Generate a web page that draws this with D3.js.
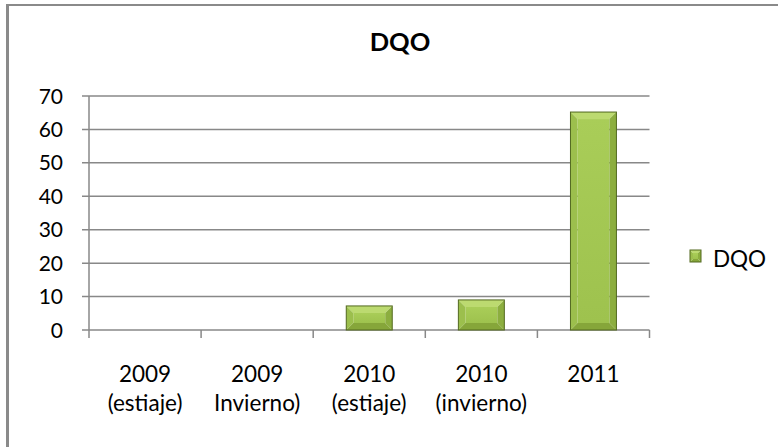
<!DOCTYPE html>
<html>
<head>
<meta charset="utf-8">
<script src="https://cdnjs.cloudflare.com/ajax/libs/d3/7.8.5/d3.min.js"></script>
<style>
  body { margin: 0; background: #fff; }
  svg { display: block; font-family: Lato, 'Open Sans', sans-serif; }
</style>
</head>
<body>
<script>
// chart data
const categories = ["2009\n(estiaje)", "2009\nInvierno)", "2010\n(estiaje)", "2010\n(invierno)", "2011"];
const values = [0, 0, 7.2, 9, 65.2];
const yTicks = [0, 10, 20, 30, 40, 50, 60, 70];
const seriesName = "DQO";

const W = 778, H = 447;
const svg = d3.select("body").append("svg").attr("width", W).attr("height", H);

// outer chart border (only top and left are inside the picture)
svg.append("line").attr("x1", 7.5).attr("x2", 7.5).attr("y1", 4).attr("y2", H)
  .attr("stroke", "#8a8a8a").attr("stroke-width", 3);
svg.append("line").attr("x1", 6).attr("x2", W).attr("y1", 5).attr("y2", 5)
  .attr("stroke", "#8a8a8a").attr("stroke-width", 2);

const x = d3.scaleBand().domain(categories).range([89, 649.5]).padding(0);
const y = d3.scaleLinear().domain([0, 70]).range([330, 96]);

// gridlines
svg.append("g").selectAll("line").data(yTicks).join("line")
  .attr("x1", 82).attr("x2", 649.5)
  .attr("y1", d => y(d)).attr("y2", d => y(d))
  .attr("stroke", "#888").attr("stroke-width", 1.5);

// y axis line
svg.append("line").attr("x1", 89).attr("x2", 89).attr("y1", y(70)).attr("y2", 338)
  .attr("stroke", "#888").attr("stroke-width", 1.5);

// category ticks at band edges
const edges = categories.map(c => x(c)).concat([x.range()[1]]);
svg.append("g").selectAll("line").data(edges.slice(1)).join("line")
  .attr("x1", d => d).attr("x2", d => d).attr("y1", 330).attr("y2", 338)
  .attr("stroke", "#888").attr("stroke-width", 1.5);

// y labels
svg.append("g").selectAll("text").data(yTicks).join("text")
  .attr("x", 63).attr("y", d => y(d) + 7.5)
  .attr("text-anchor", "end").attr("font-size", 21).attr("fill", "#000")
  .text(d => d);

// category labels
const cl = svg.append("g").selectAll("text").data(categories).join("text")
  .attr("x", d => x(d) + x.bandwidth() / 2)
  .attr("text-anchor", "middle").attr("font-size", 22.5).attr("fill", "#000");
cl.selectAll("tspan").data(d => d.split("\n")).join("tspan")
  .attr("x", function() { return d3.select(this.parentNode).attr("x"); })
  .attr("y", (d, i) => 381.5 + i * 29)
  .text(d => d);

// bevelled bar
function bevelBar(g, x0, x1, y0, y1, b) {
  const faces = [
    { pts: [[x0, y0], [x1, y0], [x1 - b, y0 + b], [x0 + b, y0 + b]], fill: "#bcda70" },
    { pts: [[x0, y0], [x0 + b, y0 + b], [x0 + b, y1 - b], [x0, y1]], fill: "#9cbf4d" },
    { pts: [[x1, y0], [x1, y1], [x1 - b, y1 - b], [x1 - b, y0 + b]], fill: "#8cae3f" },
    { pts: [[x0, y1], [x0 + b, y1 - b], [x1 - b, y1 - b], [x1, y1]], fill: "#86a63a" }
  ];
  g.append("rect").attr("x", x0 + b).attr("y", y0 + b)
    .attr("width", Math.max(0, x1 - x0 - 2 * b)).attr("height", Math.max(0, y1 - y0 - 2 * b))
    .attr("fill", "url(#body)");
  faces.forEach(f => g.append("polygon").attr("points", f.pts.map(p => p.join(",")).join(" "))
    .attr("fill", f.fill));
  g.append("rect").attr("x", x0).attr("y", y0).attr("width", x1 - x0).attr("height", y1 - y0)
    .attr("fill", "none").attr("stroke", "#52691f").attr("stroke-width", 1);
}

const defs = svg.append("defs");
const grad = defs.append("linearGradient").attr("id", "body").attr("x1", 0).attr("x2", 0).attr("y1", 0).attr("y2", 1);
grad.append("stop").attr("offset", "0%").attr("stop-color", "#a9cd58");
grad.append("stop").attr("offset", "100%").attr("stop-color", "#9ec24e");

const barW = x.bandwidth() * 0.41;
const bars = svg.append("g");
categories.forEach((c, i) => {
  if (!values[i]) return;
  const cx = x(c) + x.bandwidth() / 2;
  const y0 = y(values[i]), y1 = y(0);
  bevelBar(bars, cx - barW / 2, cx + barW / 2, y0, y1, Math.min(7, (y1 - y0) / 3));
});

// title
svg.append("text").attr("x", 400).attr("y", 50.5).attr("text-anchor", "middle")
  .attr("font-size", 25.5).attr("font-weight", "bold").text(seriesName);

// legend
const lg = svg.append("g");
bevelBar(lg, 690, 701, 250, 262, 3);
lg.append("text").attr("x", 713).attr("y", 266.5).attr("font-size", 22.5).text(seriesName);
</script>
</body>
</html>
